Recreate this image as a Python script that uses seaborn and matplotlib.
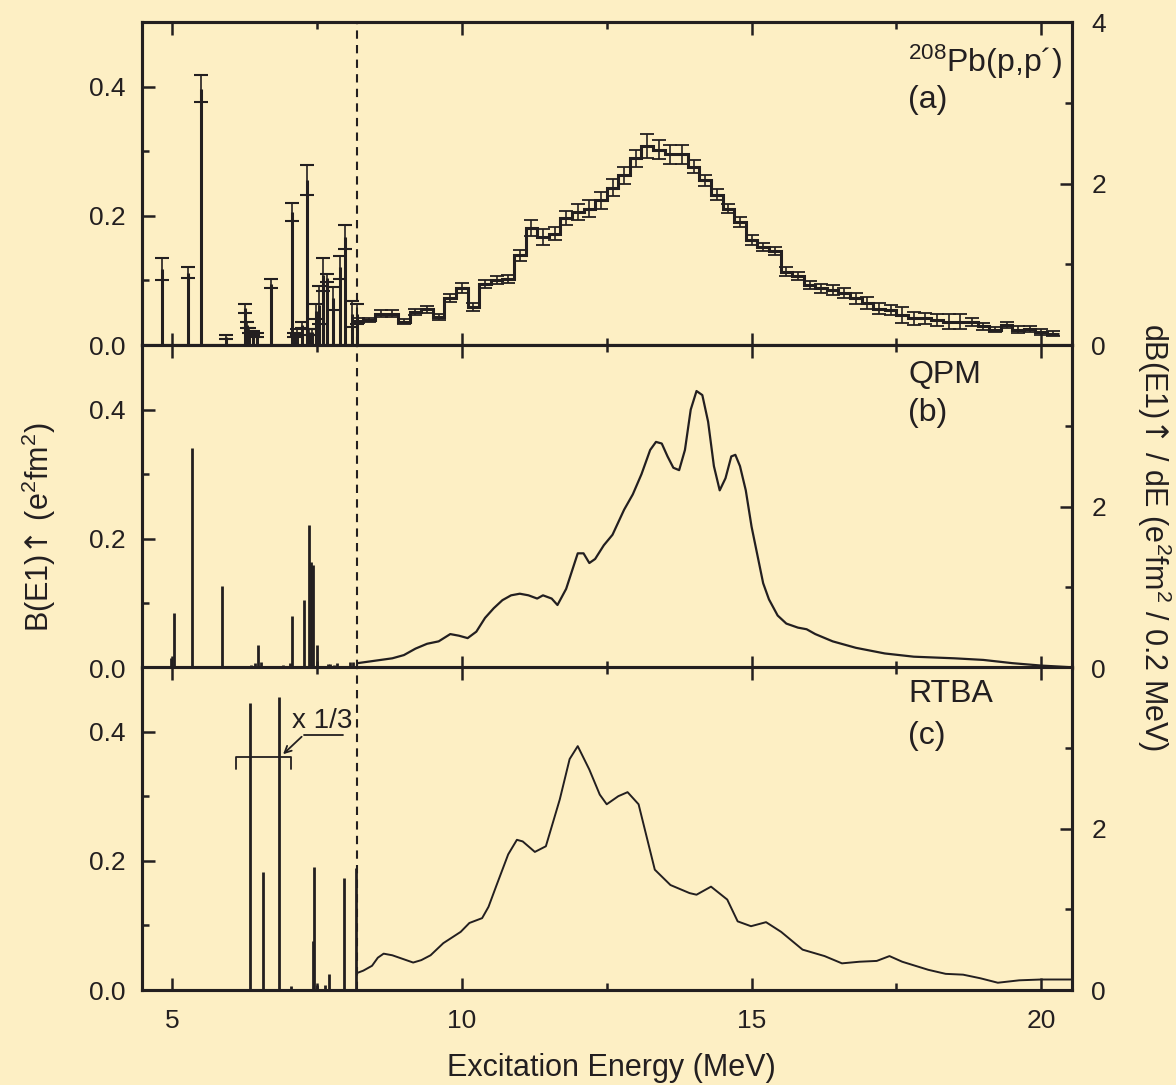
import numpy as np
import pandas as pd
import seaborn as sns
import matplotlib
matplotlib.use("Agg")
import matplotlib.pyplot as plt
from matplotlib.ticker import MultipleLocator, FixedLocator, FixedFormatter

BG = "#fdefc4"
INK = "#231f20"

# (a) 208Pb(p,p') discrete states below threshold: E (MeV), B(E1) (e2fm2), error
exp_e = [4.83, 5.28, 5.50, 5.93, 6.25, 6.30, 6.33, 6.40, 6.47, 6.71, 7.07, 7.11, 7.16,
         7.24, 7.33, 7.37, 7.41, 7.48, 7.54, 7.61, 7.68, 7.78, 7.90, 7.99, 8.10, 8.19]
exp_b = [0.118, 0.112, 0.397, 0.013, 0.057, 0.031, 0.022, 0.018, 0.015, 0.095, 0.206, 0.016, 0.020,
         0.031, 0.255, 0.020, 0.020, 0.052, 0.062, 0.109, 0.104, 0.072, 0.120, 0.167, 0.048, 0.048]
exp_err = [0.017, 0.008, 0.021, 0.003, 0.007, 0.004, 0.004, 0.003, 0.003, 0.007, 0.014, 0.003, 0.004,
           0.005, 0.023, 0.004, 0.004, 0.012, 0.029, 0.025, 0.006, 0.018, 0.018, 0.019, 0.020, 0.016]

# (a) continuum, 0.2 MeV bins from 8.1 to 20.3 MeV, dB/dE (e2fm2 / 0.2 MeV)
hist_edges = np.round(np.arange(8.1, 20.31, 0.2), 2)
hist_val = [0.30, 0.31, 0.39, 0.39, 0.29, 0.41, 0.44, 0.35, 0.58, 0.71,
            0.47, 0.76, 0.80, 0.82, 1.11, 1.45, 1.34, 1.38, 1.57, 1.65,
            1.69, 1.79, 1.95, 2.10, 2.31, 2.46, 2.42, 2.36, 2.36, 2.21,
            2.04, 1.86, 1.69, 1.52, 1.30, 1.21, 1.16, 0.91, 0.85, 0.74,
            0.70, 0.68, 0.64, 0.58, 0.52, 0.45, 0.43, 0.37, 0.33, 0.33,
            0.31, 0.29, 0.29, 0.28, 0.23, 0.19, 0.25, 0.19, 0.20, 0.16,
            0.14]
hist_err = [0.03, 0.03, 0.04, 0.04, 0.03, 0.04, 0.04, 0.04, 0.05, 0.06,
            0.05, 0.05, 0.05, 0.05, 0.07, 0.10, 0.10, 0.08, 0.09, 0.10,
            0.10, 0.10, 0.10, 0.10, 0.10, 0.15, 0.12, 0.12, 0.12, 0.08,
            0.07, 0.07, 0.06, 0.06, 0.06, 0.05, 0.05, 0.05, 0.05, 0.05,
            0.05, 0.06, 0.06, 0.07, 0.07, 0.07, 0.06, 0.10, 0.08, 0.07,
            0.07, 0.09, 0.09, 0.05, 0.04, 0.03, 0.04, 0.04, 0.04, 0.04,
            0.03]

# (b) QPM discrete
qpm_e = [4.98, 5.03, 5.34, 5.86, 6.10, 6.36, 6.43, 6.49, 6.53, 6.79, 6.91, 7.04, 7.07,
         7.28, 7.37, 7.40, 7.43, 7.50, 7.58, 7.69, 7.72, 7.79, 7.85, 8.07, 8.13]
qpm_b = [0.015, 0.085, 0.340, 0.127, 0.003, 0.005, 0.008, 0.035, 0.009, 0.003, 0.004, 0.007, 0.081,
         0.106, 0.222, 0.164, 0.160, 0.035, 0.003, 0.006, 0.006, 0.004, 0.007, 0.009, 0.009]
# (b) QPM continuum
qpm_E = [8.2, 8.5, 8.8, 9.0, 9.2, 9.4, 9.6, 9.8, 9.95, 10.1, 10.25, 10.4, 10.55, 10.7, 10.85,
         11.0, 11.15, 11.3, 11.4, 11.55, 11.65, 11.8, 11.9, 12.0, 12.1, 12.2, 12.3, 12.45,
         12.6, 12.8, 12.95, 13.1, 13.25, 13.35, 13.45, 13.55, 13.65, 13.75, 13.85, 13.95,
         14.05, 14.15, 14.25, 14.35, 14.45, 14.55, 14.65, 14.72, 14.8, 14.9, 15.0, 15.1,
         15.2, 15.3, 15.45, 15.6, 15.8, 15.95, 16.1, 16.4, 16.8, 17.3, 17.8, 18.5, 19.0,
         19.5, 20.0, 20.5]
qpm_r = [0.06, 0.09, 0.12, 0.16, 0.24, 0.30, 0.33, 0.42, 0.40, 0.37, 0.45, 0.62, 0.74, 0.84, 0.90,
         0.92, 0.90, 0.86, 0.90, 0.86, 0.78, 0.98, 1.20, 1.42, 1.42, 1.30, 1.35, 1.52,
         1.65, 1.96, 2.15, 2.40, 2.70, 2.80, 2.78, 2.62, 2.48, 2.45, 2.70, 3.20,
         3.43, 3.38, 3.05, 2.50, 2.20, 2.35, 2.62, 2.64, 2.50, 2.20, 1.75, 1.40,
         1.05, 0.85, 0.65, 0.55, 0.50, 0.48, 0.42, 0.33, 0.25, 0.18, 0.14, 0.12, 0.10,
         0.06, 0.03, 0.01]

# (c) RTBA discrete (first and third shown x 1/3)
rtba_e = [6.35, 6.56, 6.85, 7.05, 7.43, 7.45, 7.50, 7.64, 7.71, 7.97, 8.17]
rtba_b = [0.444, 0.183, 0.454, 0.006, 0.076, 0.190, 0.008, 0.008, 0.025, 0.173, 0.189]
# (c) RTBA continuum
rtba_E = [8.19, 8.3, 8.45, 8.55, 8.65, 8.8, 9.0, 9.16, 9.3, 9.46,
          9.68, 9.98, 10.13, 10.35, 10.46, 10.6, 10.8, 10.95, 11.05, 11.26,
          11.45, 11.69, 11.86, 12.0, 12.2, 12.38, 12.5, 12.7, 12.86, 13.05,
          13.33, 13.6, 13.93, 14.05, 14.3, 14.58, 14.76, 14.99, 15.25, 15.51,
          15.88, 16.26, 16.56, 16.86, 17.16, 17.38, 17.6, 18.05, 18.35, 18.65,
          18.95, 19.25, 19.62, 20.0, 20.53]
rtba_r = [0.21, 0.24, 0.30, 0.40, 0.45, 0.43, 0.38, 0.34, 0.37, 0.43,
          0.58, 0.72, 0.83, 0.89, 1.03, 1.30, 1.68, 1.86, 1.84, 1.71,
          1.78, 2.36, 2.86, 3.02, 2.73, 2.42, 2.30, 2.40, 2.45, 2.30,
          1.49, 1.30, 1.20, 1.18, 1.28, 1.12, 0.85, 0.79, 0.84, 0.72,
          0.50, 0.42, 0.33, 0.35, 0.36, 0.42, 0.35, 0.25, 0.20, 0.19,
          0.145, 0.09, 0.12, 0.13, 0.13]

threshold = 8.19

sns.set_theme(style="ticks")
plt.rcParams['font.family'] = ['Liberation Sans', 'DejaVu Sans']
plt.rcParams['mathtext.fontset'] = 'dejavusans'
plt.rcParams['axes.edgecolor'] = INK
plt.rcParams['text.color'] = INK

fig = plt.figure(figsize=(11.76, 10.85), dpi=100, facecolor=BG)

L, W = 142 / 1176, 930 / 1176
H = 323 / 1085
bottoms = [1 - 345 / 1085, 1 - 668 / 1085, 1 - 990 / 1085]

axes, twins = [], []
for i, b in enumerate(bottoms):
    ax = fig.add_axes([L, b, W, H], facecolor=BG)
    tw = ax.twinx()
    ax.set_xlim(4.48, 20.53)
    ax.set_ylim(0, 0.5)
    tw.set_ylim(0, 4)
    ax.xaxis.set_major_locator(MultipleLocator(5))
    ax.xaxis.set_minor_locator(MultipleLocator(2.5))
    ax.yaxis.set_major_locator(FixedLocator([0, 0.2, 0.4]))
    ax.yaxis.set_major_formatter(FixedFormatter(["0.0", "0.2", "0.4"]))
    ax.yaxis.set_minor_locator(FixedLocator([0.1, 0.3, 0.5]))
    tw.yaxis.set_major_locator(FixedLocator([0, 2, 4]))
    tw.yaxis.set_major_formatter(FixedFormatter(["0", "2", "4" if i == 0 else ""]))
    tw.yaxis.set_minor_locator(FixedLocator([1, 3]))
    ax.tick_params(which='both', direction='in', top=True, bottom=True, left=True, right=False,
                   colors=INK, labelsize=19, width=1.8)
    ax.tick_params(which='major', length=9)
    ax.tick_params(which='minor', length=5)
    ax.tick_params(axis='y', pad=12)
    ax.tick_params(axis='x', pad=14)
    tw.tick_params(which='both', direction='in', colors=INK, labelsize=19, width=1.8, pad=14)
    tw.tick_params(which='major', length=9)
    tw.tick_params(which='minor', length=5)
    if i < 2:
        ax.tick_params(axis='x', labelbottom=False)
    for a in (ax, tw):
        for s in a.spines.values():
            s.set_linewidth(2.2)
            s.set_color(INK)
    ax.axvline(threshold, color=INK, lw=1.5, ls=(0, (4, 3)), zorder=1)
    axes.append(ax)
    twins.append(tw)

ax_a, ax_b, ax_c = axes
tw_a, tw_b, tw_c = twins

# (a)
ax_a.vlines(exp_e, 0, exp_b, color=INK, lw=2.2)
ax_a.errorbar(exp_e, exp_b, yerr=exp_err, fmt='none', ecolor=INK, elinewidth=1.2,
              capsize=5, capthick=1.5)
tw_a.stairs(hist_val, hist_edges, color=INK, lw=2.2, baseline=None)
centers = (hist_edges[:-1] + hist_edges[1:]) / 2
tw_a.errorbar(centers, hist_val, yerr=hist_err, fmt='none', ecolor=INK, elinewidth=1.2,
              capsize=5, capthick=1.3)

# (b)
ax_b.vlines(qpm_e, 0, qpm_b, color=INK, lw=2.0)
df_b = pd.DataFrame({"E": qpm_E, "r": qpm_r})
sns.lineplot(data=df_b, x="E", y="r", ax=tw_b, color=INK, lw=1.6, sort=False)

# (c)
ax_c.vlines(rtba_e, 0, rtba_b, color=INK, lw=2.0)
df_c = pd.DataFrame({"E": rtba_E, "r": rtba_r})
sns.lineplot(data=df_c, x="E", y="r", ax=tw_c, color=INK, lw=1.4, sort=False)

for tw in twins:
    tw.set_xlabel("")
    tw.set_ylabel("")
    tw.set_ylim(0, 4)

# x 1/3 bracket and leader
ax_c.plot([6.10, 6.10, 7.06, 7.06], [0.342, 0.361, 0.361, 0.342], color=INK, lw=1.3)
ax_c.plot([7.95, 7.27], [0.395, 0.395], color=INK, lw=1.3)
ax_c.annotate("", xy=(6.88, 0.362), xytext=(7.27, 0.395),
              arrowprops=dict(arrowstyle="->", color=INK, lw=1.3))
ax_c.text(7.59, 0.417, "x 1/3", ha='center', va='center', fontsize=20)

# panel labels
sup = "$\\mathregular{^{%s}}$"
ax_a.text(0.824, 0.876, sup % "208" + "Pb(p,p\u00b4)", transform=ax_a.transAxes, fontsize=23, va='center')
ax_a.text(0.824, 0.758, "(a)", transform=ax_a.transAxes, fontsize=23, va='center')
ax_b.text(0.824, 0.907, "QPM", transform=ax_b.transAxes, fontsize=23, va='center')
ax_b.text(0.824, 0.790, "(b)", transform=ax_b.transAxes, fontsize=23, va='center')
ax_c.text(0.824, 0.916, "RTBA", transform=ax_c.transAxes, fontsize=23, va='center')
ax_c.text(0.824, 0.786, "(c)", transform=ax_c.transAxes, fontsize=23, va='center')

arrow = "$\\mathrm{\u2191}$"
fig.text(0.033, 0.514, "B(E1)" + arrow + " (e" + sup % "2" + "fm" + sup % "2" + ")", rotation=90,
         ha='center', va='center', fontsize=22)
fig.text(0.981, 0.505, "dB(E1)" + arrow + " / dE (e" + sup % "2" + "fm" + sup % "2" + " / 0.2 MeV)",
         rotation=270, ha='center', va='center', fontsize=22)
fig.text(0.52, 0.016, "Excitation Energy (MeV)", ha='center', va='center', fontsize=22)

fig.savefig("out.png", dpi=100, facecolor=BG)
